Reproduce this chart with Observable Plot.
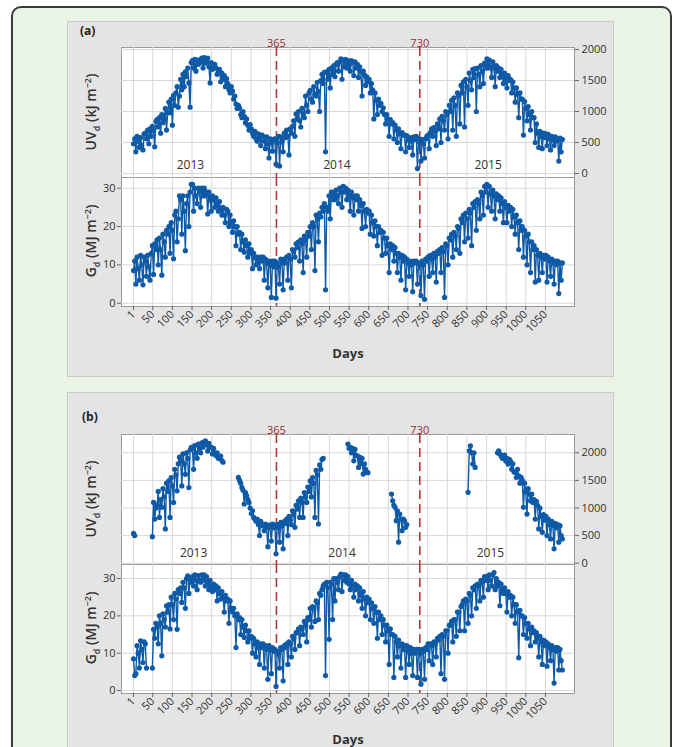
<!DOCTYPE html>
<html>
<head>
<meta charset="utf-8">
<script src="https://cdn.jsdelivr.net/npm/d3@7"></script>
<script src="https://cdn.jsdelivr.net/npm/@observablehq/plot@0.6"></script>
<style>
  html, body { margin: 0; padding: 0; background: #ffffff; }
  #page { position: relative; width: 675px; height: 747px; overflow: hidden; font-family: "Open Sans", "Noto Sans", sans-serif; }
  #outer { position: absolute; left: 11px; top: 6px; width: 657px; height: 780px; border: 2px solid #3a3a3a; border-radius: 10px; background: #e9f3e6; }
  .panel { position: absolute; left: 67px; width: 547px; background: #e4e4e4; border: 1px solid #cacaca; box-sizing: border-box; }
  .tag { position: absolute; font-size: 12px; font-weight: 700; color: #222; }
  .ylab { position: absolute; transform: translate(-50%, -50%) rotate(-90deg); white-space: nowrap; font-size: 14px; font-weight: 600; color: #333; }
  .ylab sub, .ylab sup { font-size: 9px; }
  .xlab { position: absolute; transform: translate(-50%, -50%); font-size: 13px; font-weight: 700; color: #333; }
</style>
</head>
<body>
<div id="page">
  <div id="outer"></div>
  <div class="panel" style="top:21px;height:356px;"></div>
  <div class="panel" style="top:392px;height:370px;"></div>
  <div class="tag" style="left:80px;top:22px;">(a)</div>
  <div class="tag" style="left:82px;top:408px;">(b)</div>
  <div class="ylab" style="left:92px;top:112px;">UV<sub>d</sub> (kJ m<sup>−2</sup>)</div>
  <div class="ylab" style="left:92px;top:241px;">G<sub>d</sub> (MJ m<sup>−2</sup>)</div>
  <div class="ylab" style="left:92px;top:499px;">UV<sub>d</sub> (kJ m<sup>−2</sup>)</div>
  <div class="ylab" style="left:92px;top:628px;">G<sub>d</sub> (MJ m<sup>−2</sup>)</div>
  <div class="xlab" style="left:348px;top:353px;">Days</div>
  <div class="xlab" style="left:348px;top:739px;">Days</div>
</div>
<script>
// ---- data (one value every 3 days starting at day 1) ----
const dayStart = 1, dayStep = 3;
const xTicks = [1, 50, 100, 150, 200, 250, 300, 350, 400, 450, 500, 550, 600, 650, 700, 750, 800, 850, 900, 950, 1000, 1050];
const markerDays = [365, 730];
const markerLabels = ["365", "730"];
const years = ["2013", "2014", "2015"];
const uvTicksA = [0, 500, 1000, 1500, 2000];
const uvTicksB = [0, 500, 1000, 1500, 2000];
const gTicks = [0, 10, 20, 30];

// panel (a): UVd, kJ m-2
const uvA = [
  480,560,350,600,520,420,580,450,380,640,
  650,560,700,480,720,600,760,690,430,840,
  870,750,900,650,950,820,880,1050,700,980,
  1150,980,1200,780,1260,1100,1300,1400,1070,1250,
  1520,1350,1600,1400,1640,1560,1700,1460,1070,1790,
  1820,1700,1840,1650,1830,1760,1780,1840,1860,1700,
  1870,1780,1820,1860,1720,1460,1790,1680,1700,1760,
  1700,1600,1640,1680,1480,1620,1520,1580,1400,1530,
  1450,1350,1300,1400,1330,1200,1250,1120,1050,1100,
  1060,950,900,1000,920,820,880,780,700,790,
  720,650,600,680,560,520,640,580,450,620,
  600,520,400,590,480,250,560,500,360,550,
  560,150,500,600,120,590,520,350,650,580,
  700,600,300,720,650,760,850,600,960,880,
  1000,850,750,1050,960,900,1250,1100,1000,1300,
  1340,1200,1150,1400,1280,1250,1470,1320,1000,1500,
  1600,1450,1630,350,1640,1520,1680,1380,1700,1600,
  1740,1560,1760,1790,1650,1800,1850,1520,1830,1720,
  1840,1700,1820,1750,1650,1820,1790,1580,1800,1700,
  1760,1550,1720,1640,1250,1650,1590,1420,1560,1480,
  1520,1300,1450,1350,880,1300,1180,950,1200,1100,
  1130,1000,1060,950,800,950,880,600,870,800,
  820,560,780,700,500,720,640,400,660,620,
  620,350,610,540,420,580,520,300,590,550,
  600,80,560,500,200,550,480,250,560,600,
  620,400,660,720,600,740,680,450,800,720,
  880,500,920,850,700,1000,950,560,1100,1000,
  1180,700,1220,1100,600,1300,1250,800,1420,1300,
  1480,750,1520,1400,1100,1620,1500,1350,1680,1550,
  1690,1000,1700,1600,1400,1740,1650,1450,1780,1700,
  1850,1700,1830,1720,1550,1800,1700,1400,1740,1650,
  1700,1550,1680,1600,1450,1620,1520,1380,1580,1500,
  1520,1300,1480,1380,1150,1380,1280,900,1300,1200,
  1200,620,1160,1050,850,1080,950,700,1000,900,
  900,500,800,650,420,680,600,400,650,580,
  640,450,630,560,380,600,540,450,590,520,
  560,200,570,350,550
];
// panel (a): Gd, MJ m-2
const gA = [
  8.5,11,5,12,9,6,12.5,10,4.8,12,
  11,7,12.5,9.5,6,13,15,7.5,15.5,14,
  16.5,10,17,14,7.3,18,16,12,19,18,
  20,13,21,19,11.6,23,24,16,22,28,
  27,18,28,24,13.7,26,28,20,29,31,
  31,24,30,28,26,30,29,25,30,28,
  30,28,29,23.3,29,27,24,28,27,25,
  27.5,26,24,26.5,24.5,23,25,23,21,24.5,
  24,20,23,21,18.5,21.5,20,15,20,18,
  18.5,14,18,16,13.3,16.5,15,12,15.5,13,
  14,9,13,12,10,12,11,9,12,11,
  12,6,11.5,10.5,4,11,10,1.5,11,9.5,
  11,1.3,10.5,9.5,5,11.5,10.5,3.5,11.5,10.5,
  12,6,12.5,11.5,4,14,13.5,12,15.5,14.5,
  16,11,16.5,15.5,8,17.5,16.5,12,18.5,17.5,
  20,14,21,20,8.5,23,22,16,23.5,22.5,
  25,24,26,3.5,25,24,28,22,29,27,
  29,27,29.5,28,26,30,29,25,30.5,29,
  30,27,29.5,28,24,29,27.5,23,28,27,
  28,24,27,25.5,19.5,26,24,20,24.5,23.5,
  24,18,23,21,17.5,21.5,20,15,20,18.5,
  19,12.5,18.5,17,13,17,15,8,15.5,14,
  15,11,14.5,13,8,13,12,6,12.5,11,
  12,3.5,11.5,10.5,7,11,10,3,11,10.5,
  11,5,10.5,10,2,11,10,1,11.5,11,
  12,7,12.5,11.5,8,13,12,5.5,13.5,13,
  14,8,14.5,13.5,1.5,15.5,15,10,17,16.5,
  18,12,18.5,17.5,14,20,19.5,13,22,21,
  23,16,23.5,22,17,24.5,23.5,15,26,25,
  26.5,19,27,26,22,29,28,23,30.5,29,
  31,25,30.5,28.5,24,29.5,28,22,28.5,27,
  28,24,27.5,26,21,26.5,25,21,25.5,24,
  25,20,24.5,22.5,18,23,21,14,21.5,19,
  20,12,19,17.5,10,18,16,8,16,14,
  15,5.5,14,12.5,6,13,12,8,12.5,11.5,
  12.5,5.5,12,11,7,11.5,10.5,5,11,10,
  11,2.5,10.5,6,10.5
];
// panel (b): UVd, kJ m-2 (null = no measurement)
const uvB = [
  540,500,null,null,null,null,null,null,null,null,
  null,null,null,null,null,null,480,1100,800,1000,
  1050,1300,830,1150,1010,1350,1200,620,1450,1300,
  1490,830,1550,1400,1100,1700,1600,1310,1800,1920,
  1850,1400,1980,1800,1610,2000,1900,1370,2050,2100,
  2080,1700,2130,2000,1900,2156,2080,2000,2180,2100,
  2200,2217,2150,2030,2170,2100,2100,1980,2080,2000,
  1950,2000,1900,1900,1940,1860,1830,null,null,null,
  null,null,null,null,null,null,null,null,null,1554,
  1500,1450,1373,1320,1072,1280,1223,1150,1100,1000,
  900,950,830,800,760,800,700,500,760,680,
  700,590,710,650,300,690,650,400,710,640,
  690,170,700,640,380,740,680,260,760,720,
  800,500,850,780,700,950,880,650,1050,980,
  1130,830,1180,1100,830,1280,1200,1100,1380,1300,
  1490,1200,1550,1450,830,1680,1600,710,1780,1700,
  1880,1900,null,null,null,null,null,null,null,null,
  null,null,null,null,null,null,null,null,null,null,
  null,null,2157,2080,2100,2000,2080,1855,2060,1950,
  1945,1735,1920,1800,1900,1615,1800,1700,1650,1640,
  null,null,null,null,null,null,null,null,null,null,
  null,null,null,null,null,null,null,null,null,1253,
  1130,1050,1010,770,950,380,890,800,590,800,
  770,650,700,null,null,null,null,null,null,null,
  null,null,null,null,null,null,null,null,null,null,
  null,null,null,null,null,null,null,null,null,null,
  null,null,null,null,null,null,null,null,null,null,
  null,null,null,null,null,null,null,null,null,null,
  null,null,null,null,1283,2036,2126,2000,1795,2000,
  1735,null,null,null,null,null,null,null,null,null,
  null,null,null,null,null,null,null,null,null,2000,
  2036,1980,1945,1900,1950,1960,1850,1900,1795,1880,
  1850,1700,1800,1650,1650,1555,1700,1580,1450,1555,
  1500,1010,1450,1300,890,1350,1250,1130,1250,1100,
  1150,800,1120,1050,620,1000,850,560,880,780,
  850,500,800,700,440,760,680,260,720,640,
  700,380,680,500,440
];
// panel (b): Gd, MJ m-2
const gB = [
  8.5,4,4.5,12,10,6,13.3,11,7.5,13,
  12.5,6,null,null,null,null,6,16.4,14,18,
  17,12.5,20,18,9.3,20.5,19,17,22.7,21,
  23,16.5,25,23,19,26,24.5,16.4,27,26,
  27.5,23.6,29,27.5,22,30,30.7,26,30,29,
  30.5,28,31,29.5,27,30.8,29.5,29,31,29.5,
  31,28,30.5,29,27,29.5,28,26.5,28.5,27,
  28,24,27.5,26,24.5,26.5,25,21,25.5,24,
  24.5,18,24,22,21,22,20,11.5,20.5,19,
  19.5,15,19,17,14.2,17.5,16,13,16,14,
  14.5,10,14,12.5,9,13,11.5,7,12.5,11.5,
  12.5,6,12,11,3,12,11,4.5,11.5,10.5,
  11,1.1,10.5,10,6,11.5,11,2.6,12,11.5,
  12.5,7,13,12.5,9,14.5,14,11,15.5,15.5,
  16.5,12,17,16.5,15,18.5,17.5,13,19.5,19,
  22,17,22.5,22,18.5,24,23.5,19,26,25.5,
  27,28,28.5,4,29,27.5,13.7,29,28.5,19,
  30,24,30,29,27,30.5,31.2,26.5,31,29.5,
  31,29,30.5,28.5,27,29.5,28,25,28.5,27,
  28,24,27.5,25.5,22,26.5,24.5,20,25,23.5,
  24.5,19,23.5,22,18,22.5,21,14,21,19,
  20,15,19,17.5,13,17.5,16,7,16.5,15,
  15,3.5,14.5,13,9,13.5,12,6,12.5,11,
  12,3.5,12,10.5,7,11.5,10,4,11,10,
  11,3.5,11,10,1.7,11,10.5,3,11.5,11,
  12.5,8,12.5,12,7,13,12.5,9,14,13.5,
  14.5,4.5,15,14.5,3,16,16,10,17.5,17.5,
  18.5,13,19,19,14.5,21,21,16,22.5,23,
  24,16,24.5,24,18,26,25.5,20,27.5,27,
  28,22,28.5,28,24,29.5,29,25,30.5,29.5,
  30.5,27,31,29.5,28,31,31.6,27,30,28,
  29,22.7,28.5,27,26,27.5,26,21,26.5,25,
  25.5,20,25,23,18,23,21,8.8,21.5,20,
  20,15,19.5,18,14,18,16.5,12,17,15.5,
  16,13,15.5,14,9,14.5,13,7,13.5,12,
  13,6.5,12.5,11.5,8,12,11,2,11.5,10.5,
  11.5,5.5,11,8,5.5
];
const yearDaysA = [146, 519, 904];
const yearDaysB = [154, 532, 910];

// ---- drawing ----
const BLUE = "#0e5aa7";
const RED = "#ad3a3a";
const RED_TXT = "#972c2c";
const X_DOMAIN = [-29.6, 1124];
const fmt = d => String(d);

function toRows(vals) {
  return vals.map((v, i) => ({day: dayStart + i * dayStep, v}));
}

function subplot(opts) {
  const rows = toRows(opts.vals);
  const marks = [
    Plot.frame({fill: "white", stroke: "#9a9a9a"}),
    Plot.gridX(xTicks, {stroke: "#d8d8d8", strokeOpacity: 1}),
    Plot.gridY(opts.yTicks, {stroke: "#d8d8d8", strokeOpacity: 1}),
    Plot.ruleX(markerDays, {stroke: RED, strokeWidth: 1.6, strokeDasharray: "9,5"}),
    Plot.line(rows, {x: "day", y: "v", stroke: BLUE, strokeWidth: 1.4}),
    Plot.dot(rows.filter(d => d.v != null), {x: "day", y: "v", r: 2.6, fill: BLUE, stroke: "none"})
  ];
  if (opts.upper) {
    marks.push(
      Plot.axisY(opts.yTicks, {anchor: "right", tickSize: 4, tickPadding: 3, fontSize: 11, label: null, stroke: "#666", color: "#333", tickFormat: fmt}),
      Plot.text(markerLabels, {x: markerDays, frameAnchor: "top", dy: -8, fill: RED_TXT, fontSize: 11}),
      Plot.text(years, {x: opts.yearDays, frameAnchor: "bottom", dy: opts.yearDy, fill: "#333", fontSize: 12})
    );
  } else {
    marks.push(
      Plot.axisY(opts.yTicks, {anchor: "left", tickSize: 4, tickPadding: 2, fontSize: 11, label: null, stroke: "#666", color: "#333", tickFormat: fmt}),
      Plot.axisX(xTicks, {anchor: "bottom", tickSize: 4, tickPadding: 2, tickRotate: -45, fontSize: 11, label: null, stroke: "#666", color: "#333", tickFormat: fmt})
    );
  }
  const svg = Plot.plot({
    width: 675,
    height: opts.height,
    marginLeft: 121,
    marginRight: 101,
    marginTop: opts.mTop,
    marginBottom: opts.mBottom,
    x: {domain: X_DOMAIN, axis: null},
    y: {domain: opts.yDomain, axis: null},
    style: {background: "transparent", overflow: "visible", fontFamily: "'Open Sans', 'Noto Sans', sans-serif"},
    marks
  });
  svg.style.position = "absolute";
  svg.style.top = opts.top + "px";
  svg.style.left = "0px";
  document.getElementById("page").appendChild(svg);
}

subplot({vals: uvA, upper: true, yTicks: uvTicksA, yDomain: [-64.5, 2032], top: 21, height: 156, mTop: 26, mBottom: 0, yearDays: yearDaysA, yearDy: -9});
subplot({vals: gA, upper: false, yTicks: gTicks, yDomain: [-0.86, 32.79], top: 177, height: 199, mTop: 0, mBottom: 70});
subplot({vals: uvB, upper: true, yTicks: uvTicksB, yDomain: [-23.5, 2331], top: 392, height: 172, mTop: 42, mBottom: 0, yearDays: yearDaysB, yearDy: -8});
subplot({vals: gB, upper: false, yTicks: gTicks, yDomain: [-0.8, 33.75], top: 564, height: 183, mTop: 0, mBottom: 54});
</script>
</body>
</html>
